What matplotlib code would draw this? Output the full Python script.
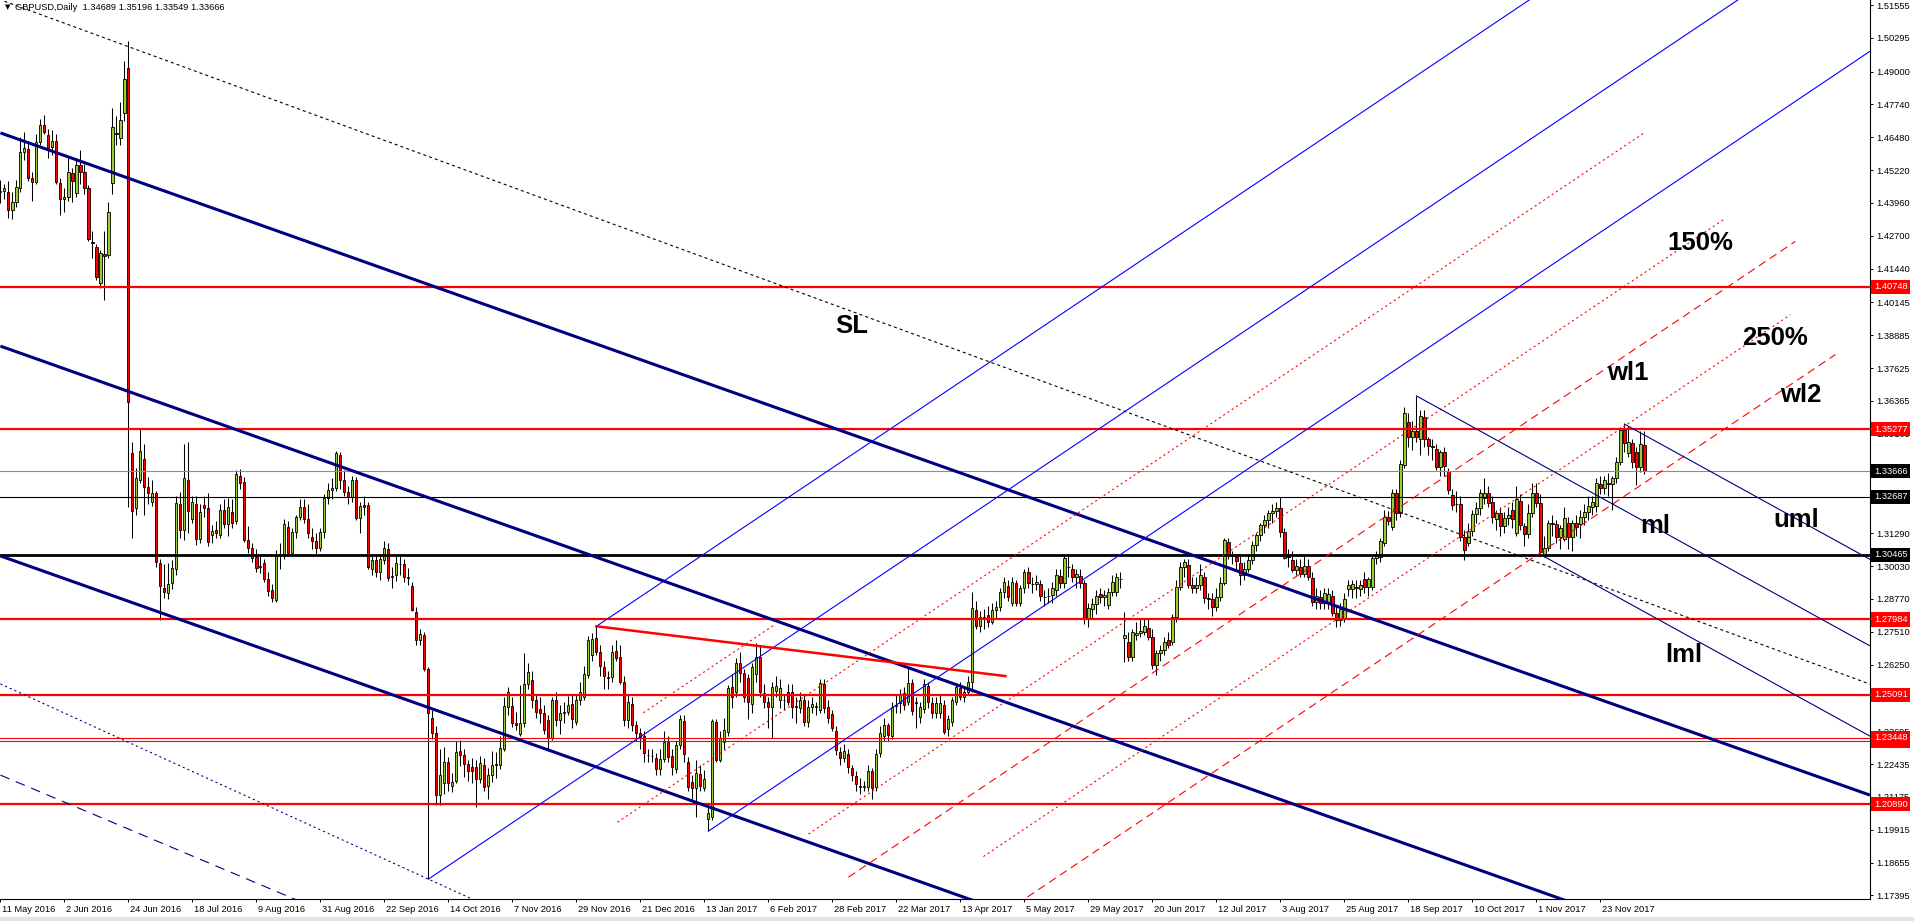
import matplotlib
matplotlib.use('Agg')
import matplotlib.pyplot as plt
import matplotlib.transforms as mtransforms
from matplotlib.patches import Rectangle
import numpy as np

plt.rcParams['font.family'] = ['Liberation Sans', 'DejaVu Sans']
plt.rcParams['lines.scale_dashes'] = False

header = 'GBPUSD,Daily  1.34689 1.35196 1.33549 1.33666'

# one label every 16 daily bars
date_labels = ['11 May 2016', '2 Jun 2016', '24 Jun 2016', '18 Jul 2016', '9 Aug 2016',
               '31 Aug 2016', '22 Sep 2016', '14 Oct 2016', '7 Nov 2016', '29 Nov 2016',
               '21 Dec 2016', '13 Jan 2017', '6 Feb 2017', '28 Feb 2017', '22 Mar 2017',
               '13 Apr 2017', '5 May 2017', '29 May 2017', '20 Jun 2017', '12 Jul 2017',
               '3 Aug 2017', '25 Aug 2017', '18 Sep 2017', '10 Oct 2017', '1 Nov 2017',
               '23 Nov 2017']

price_ticks = [1.51555, 1.50295, 1.49000, 1.47740, 1.46480, 1.45220, 1.43960, 1.42700,
               1.41440, 1.40145, 1.38885, 1.37625, 1.36365, 1.35105, 1.33845, 1.32585,
               1.31290, 1.30030, 1.28770, 1.27510, 1.26250, 1.24990, 1.23695, 1.22435,
               1.21175, 1.19915, 1.18655, 1.17395]

# daily bars, one row per week
opens = [
    1.4440, 1.4443, 1.4438,
    1.4369, 1.4400, 1.4452, 1.4593, 1.4605,
    1.4490, 1.4478, 1.4631, 1.4695, 1.4657,
    1.4610, 1.4635, 1.4474, 1.4410, 1.4420,
    1.4510, 1.4436, 1.4541, 1.4516, 1.4452,
    1.4245, 1.4228, 1.4088, 1.4200, 1.4197,
    1.4474, 1.4665, 1.4644, 1.4740, 1.4912,
    1.3437, 1.3226, 1.3333, 1.3414, 1.3307,
    1.3247, 1.3282, 1.3015, 1.2920, 1.2900,
    1.2939, 1.2992, 1.3241, 1.3141, 1.3335,
    1.3185, 1.3243, 1.3105, 1.3236, 1.3224,
    1.3124, 1.3140, 1.3124, 1.3220, 1.3164,
    1.3210, 1.3177, 1.3349, 1.3327, 1.3103,
    1.3071, 1.3039, 1.3000, 1.3013, 1.2952,
    1.2913, 1.2873, 1.3048, 1.3045, 1.3151,
    1.3055, 1.3134, 1.3192, 1.3228, 1.3185,
    1.3115, 1.3100, 1.3071, 1.3132, 1.3263,
    1.3295, 1.3302, 1.3431, 1.3332, 1.3288,
    1.3268, 1.3332, 1.3188, 1.3236, 1.3236,
    1.2992, 1.3025, 1.2979, 1.3025, 1.3067,
    1.2962, 1.2968, 1.3012, 1.3012, 1.2961,
    1.2925, 1.2827, 1.2718, 1.2739, 1.2608,
    1.2420, 1.2362, 1.2125, 1.2172, 1.2252,
    1.2160, 1.2177, 1.2295, 1.2280, 1.2245,
    1.2234, 1.2232, 1.2188, 1.2240, 1.2160,
    1.2200, 1.2245, 1.2240, 1.2300, 1.2462,
    1.2468, 1.2400, 1.2358, 1.2400, 1.2551,
    1.2566, 1.2489, 1.2453, 1.2438, 1.2412,
    1.2342, 1.2489, 1.2412, 1.2438, 1.2445,
    1.2474, 1.2406, 1.2489, 1.2502, 1.2585,
    1.2660, 1.2726, 1.2675, 1.2615, 1.2578,
    1.2576, 1.2679, 1.2653, 1.2560, 1.2412,
    1.2474, 1.2393, 1.2361, 1.2351, 1.2280,
    1.2276, 1.2265, 1.2223, 1.2262,
    1.2329, 1.2274, 1.2224, 1.2316, 1.2409,
    1.2253, 1.2176, 1.2150, 1.2205, 1.2153,
    1.2033, 1.2041, 1.2405, 1.2259, 1.2329,
    1.2368, 1.2540, 1.2521, 1.2630, 1.2591,
    1.2572, 1.2474, 1.2590, 1.2656, 1.2517,
    1.2483, 1.2464, 1.2525, 1.2489, 1.2491,
    1.2521, 1.2521, 1.2466, 1.2457, 1.2489,
    1.2406, 1.2464, 1.2466, 1.2451, 1.2550,
    1.2464, 1.2435, 1.2371, 1.2290, 1.2265,
    1.2282, 1.2227, 1.2197, 1.2158, 1.2158,
    1.2156, 1.2218, 1.2156, 1.2284, 1.2351,
    1.2393, 1.2351, 1.2468, 1.2476, 1.2515,
    1.2483, 1.2553, 1.2481, 1.2425, 1.2453,
    1.2543, 1.2479, 1.2438, 1.2440, 1.2470,
    1.2377, 1.2406, 1.2483, 1.2534, 1.2502,
    1.2521, 1.2560, 1.2835, 1.2773, 1.2807,
    1.2815, 1.2790, 1.2835, 1.2845, 1.2905,
    1.2927, 1.2863, 1.2937, 1.2863, 1.2918,
    1.2982, 1.2936, 1.2934, 1.2934, 1.2885,
    1.2888, 1.2892, 1.2911, 1.2965, 1.2937,
    1.2999, 1.2990, 1.2960, 1.2965, 1.2939,
    1.2799, 1.2837, 1.2858, 1.2895, 1.2883,
    1.2854, 1.2905, 1.2905, 1.2955, 1.2727,
    1.2713, 1.2655, 1.2738, 1.2747, 1.2751,
    1.2764, 1.2732, 1.2623, 1.2668, 1.2681,
    1.2720, 1.2713, 1.2809, 1.2924, 1.3001,
    1.3007, 1.2930, 1.2917, 1.2930, 1.2960,
    1.2879, 1.2875, 1.2845, 1.2883, 1.2937,
    1.3097, 1.3046, 1.3036, 1.3016, 1.2969,
    1.2990, 1.3026, 1.3084, 1.3122, 1.3161,
    1.3180, 1.3205, 1.3215, 1.3224, 1.3135,
    1.3040, 1.3026, 1.2988, 1.2998, 1.2972,
    1.3003, 1.2956, 1.2866, 1.2886, 1.2862,
    1.2860, 1.2888, 1.2824, 1.2796, 1.2800,
    1.2914, 1.2916, 1.2921, 1.2914, 1.2953,
    1.2922, 1.2924, 1.3033, 1.3039, 1.3093,
    1.3193, 1.3154, 1.3282, 1.3205, 1.3391,
    1.3557, 1.3499, 1.3520, 1.3489, 1.3576,
    1.3489, 1.3462, 1.3451, 1.3384, 1.3442,
    1.3369, 1.3276, 1.3240, 1.3241, 1.3116,
    1.3090, 1.3139, 1.3203, 1.3224, 1.3265,
    1.3284, 1.3250, 1.3182, 1.3205, 1.3156,
    1.3188, 1.3220, 1.3129, 1.3254, 1.3157,
    1.3126, 1.3205, 1.3282, 1.3246, 1.3051,
    1.3071, 1.3167, 1.3164, 1.3116, 1.3108,
    1.3167, 1.3113, 1.3167, 1.3164, 1.3190,
    1.3212, 1.3231, 1.3234, 1.3318, 1.3301,
    1.3320, 1.3318, 1.3340, 1.3404, 1.3525,
    1.3436, 1.3474, 1.3442, 1.3384, 1.34689,
]

highs = [
    1.4484, 1.4470, 1.4480,
    1.4440, 1.4485, 1.4650, 1.4668, 1.4635,
    1.4515, 1.4660, 1.4720, 1.4733, 1.4680,
    1.4675, 1.4660, 1.4490, 1.4455, 1.4570,
    1.4530, 1.4570, 1.4600, 1.4545, 1.4465,
    1.4290, 1.4240, 1.4215, 1.4290, 1.4400,
    1.4760, 1.4730, 1.4785, 1.4940, 1.5016,
    1.3479, 1.3380, 1.3533, 1.3470, 1.3345,
    1.3335, 1.3290, 1.3030, 1.3010, 1.3015,
    1.3025, 1.3270, 1.3288, 1.3473, 1.3480,
    1.3270, 1.3270, 1.3240, 1.3270, 1.3285,
    1.3160, 1.3175, 1.3240, 1.3260, 1.3265,
    1.3260, 1.3372, 1.3375, 1.3345, 1.3155,
    1.3090, 1.3070, 1.3040, 1.3030, 1.2980,
    1.2935, 1.3065, 1.3090, 1.3185, 1.3175,
    1.3150, 1.3200, 1.3260, 1.3260, 1.3240,
    1.3150, 1.3130, 1.3150, 1.3280, 1.3320,
    1.3340, 1.3445, 1.3440, 1.3370, 1.3310,
    1.3350, 1.3345, 1.3250, 1.3270, 1.3250,
    1.3050, 1.3050, 1.3050, 1.3100, 1.3090,
    1.3000, 1.3040, 1.3040, 1.3030, 1.2995,
    1.2940, 1.2845, 1.2760, 1.2750, 1.2615,
    1.2450, 1.2390, 1.2300, 1.2310, 1.2270,
    1.2210, 1.2330, 1.2335, 1.2300, 1.2260,
    1.2265, 1.2260, 1.2275, 1.2265, 1.2230,
    1.2295, 1.2290, 1.2350, 1.2502, 1.2540,
    1.2500, 1.2445, 1.2545, 1.2670, 1.2630,
    1.2600, 1.2510, 1.2500, 1.2470, 1.2430,
    1.2500, 1.2520, 1.2470, 1.2480, 1.2505,
    1.2510, 1.2510, 1.2560, 1.2620, 1.2735,
    1.2745, 1.2772, 1.2700, 1.2640, 1.2600,
    1.2700, 1.2720, 1.2700, 1.2580, 1.2510,
    1.2500, 1.2410, 1.2380, 1.2370, 1.2300,
    1.2300, 1.2285, 1.2300, 1.2370,
    1.2350, 1.2300, 1.2330, 1.2430, 1.2430,
    1.2270, 1.2200, 1.2260, 1.2240, 1.2220,
    1.2090, 1.2415, 1.2415, 1.2370, 1.2420,
    1.2545, 1.2590, 1.2650, 1.2675, 1.2610,
    1.2590, 1.2630, 1.2706, 1.2700, 1.2550,
    1.2500, 1.2560, 1.2580, 1.2570, 1.2510,
    1.2550, 1.2550, 1.2500, 1.2520, 1.2510,
    1.2490, 1.2500, 1.2480, 1.2570, 1.2570,
    1.2490, 1.2450, 1.2390, 1.2310, 1.2320,
    1.2300, 1.2240, 1.2215, 1.2190, 1.2180,
    1.2240, 1.2230, 1.2300, 1.2390, 1.2420,
    1.2400, 1.2480, 1.2510, 1.2530, 1.2540,
    1.2611, 1.2570, 1.2500, 1.2480, 1.2570,
    1.2560, 1.2500, 1.2500, 1.2510, 1.2490,
    1.2430, 1.2500, 1.2550, 1.2560, 1.2540,
    1.2580, 1.2905, 1.2870, 1.2830, 1.2840,
    1.2850, 1.2860, 1.2870, 1.2920, 1.2960,
    1.2950, 1.2960, 1.2950, 1.2930, 1.2990,
    1.3000, 1.2960, 1.2970, 1.2950, 1.2910,
    1.2920, 1.2940, 1.2990, 1.2990, 1.3046,
    1.3048, 1.3010, 1.2990, 1.2990, 1.2950,
    1.2860, 1.2880, 1.2910, 1.2920, 1.2910,
    1.2920, 1.2970, 1.2975, 1.2980, 1.2828,
    1.2750, 1.2760, 1.2790, 1.2800, 1.2800,
    1.2800, 1.2760, 1.2680, 1.2700, 1.2730,
    1.2750, 1.2820, 1.2950, 1.3020, 1.3030,
    1.3030, 1.2960, 1.2960, 1.3010, 1.2980,
    1.2900, 1.2900, 1.2920, 1.2960, 1.3110,
    1.3110, 1.3060, 1.3050, 1.3040, 1.3020,
    1.3050, 1.3100, 1.3130, 1.3170, 1.3200,
    1.3220, 1.3240, 1.3250, 1.3267, 1.3150,
    1.3070, 1.3060, 1.3030, 1.3030, 1.3040,
    1.3030, 1.2980, 1.2920, 1.2910, 1.2920,
    1.2920, 1.2910, 1.2850, 1.2860, 1.2900,
    1.2950, 1.2950, 1.2950, 1.2950, 1.2980,
    1.2960, 1.3040, 1.3060, 1.3110, 1.3220,
    1.3215, 1.3300, 1.3300, 1.3410, 1.3615,
    1.3590, 1.3560, 1.3656, 1.3600, 1.3600,
    1.3500, 1.3490, 1.3470, 1.3450, 1.3460,
    1.3380, 1.3300, 1.3290, 1.3270, 1.3140,
    1.3170, 1.3220, 1.3250, 1.3300, 1.3340,
    1.3310, 1.3270, 1.3220, 1.3230, 1.3210,
    1.3230, 1.3250, 1.3310, 1.3280, 1.3170,
    1.3240, 1.3320, 1.3320, 1.3280, 1.3120,
    1.3180, 1.3200, 1.3180, 1.3160, 1.3230,
    1.3190, 1.3180, 1.3200, 1.3220, 1.3240,
    1.3270, 1.3270, 1.3340, 1.3350, 1.3350,
    1.3360, 1.3350, 1.3420, 1.3538, 1.3548,
    1.3540, 1.3490, 1.3460, 1.3520, 1.35196,
]

lows = [
    1.4396, 1.4410, 1.4340,
    1.4335, 1.4380, 1.4440, 1.4560, 1.4480,
    1.4405, 1.4470, 1.4620, 1.4660, 1.4570,
    1.4580, 1.4470, 1.4350, 1.4360, 1.4405,
    1.4400, 1.4420, 1.4470, 1.4430, 1.4250,
    1.4185, 1.4100, 1.4070, 1.4024, 1.4185,
    1.4430, 1.4620, 1.4620, 1.4710, 1.3229,
    1.3111, 1.3200, 1.3320, 1.3199, 1.3240,
    1.3235, 1.3000, 1.2796, 1.2880, 1.2877,
    1.2915, 1.2970, 1.3109, 1.3104, 1.3130,
    1.3170, 1.3085, 1.3090, 1.3190, 1.3080,
    1.3090, 1.3110, 1.3110, 1.3150, 1.3120,
    1.3150, 1.3165, 1.3300, 1.3095, 1.3055,
    1.3020, 1.2980, 1.2975, 1.2940, 1.2890,
    1.2865, 1.2865, 1.2990, 1.3030, 1.3040,
    1.3040, 1.3110, 1.3180, 1.3170, 1.3110,
    1.3070, 1.3050, 1.3060, 1.3110, 1.3240,
    1.3260, 1.3290, 1.3300, 1.3270, 1.3240,
    1.3250, 1.3180, 1.3130, 1.3200, 1.2990,
    1.2970, 1.2960, 1.2950, 1.3010, 1.2945,
    1.2920, 1.2945, 1.2970, 1.2940, 1.2930,
    1.2830, 1.2700, 1.2700, 1.2600, 1.1802,
    1.2340, 1.2086, 1.2085, 1.2130, 1.2140,
    1.2135, 1.2170, 1.2235, 1.2195, 1.2180,
    1.2170, 1.2080, 1.2170, 1.2140, 1.2110,
    1.2175, 1.2190, 1.2225, 1.2295, 1.2430,
    1.2385, 1.2375, 1.2350, 1.2385, 1.2530,
    1.2460, 1.2420, 1.2400, 1.2360, 1.2300,
    1.2335, 1.2390, 1.2360, 1.2400, 1.2430,
    1.2380, 1.2395, 1.2470, 1.2490, 1.2575,
    1.2640, 1.2660, 1.2580, 1.2530, 1.2530,
    1.2560, 1.2640, 1.2550, 1.2390, 1.2380,
    1.2370, 1.2330, 1.2300, 1.2250, 1.2250,
    1.2250, 1.2200, 1.2200, 1.2250,
    1.2250, 1.2200, 1.2210, 1.2300, 1.2250,
    1.2140, 1.2110, 1.2040, 1.2140, 1.2140,
    1.1986, 1.2030, 1.2250, 1.2250, 1.2300,
    1.2350, 1.2460, 1.2500, 1.2560, 1.2480,
    1.2415, 1.2440, 1.2560, 1.2500, 1.2460,
    1.2380, 1.2342, 1.2500, 1.2460, 1.2450,
    1.2470, 1.2420, 1.2400, 1.2440, 1.2390,
    1.2385, 1.2440, 1.2430, 1.2440, 1.2440,
    1.2400, 1.2370, 1.2280, 1.2240, 1.2250,
    1.2210, 1.2180, 1.2140, 1.2130, 1.2140,
    1.2140, 1.2109, 1.2140, 1.2270, 1.2330,
    1.2330, 1.2340, 1.2440, 1.2440, 1.2450,
    1.2470, 1.2430, 1.2380, 1.2400, 1.2440,
    1.2460, 1.2420, 1.2420, 1.2420, 1.2360,
    1.2350, 1.2390, 1.2470, 1.2490, 1.2480,
    1.2510, 1.2520, 1.2760, 1.2750, 1.2760,
    1.2770, 1.2780, 1.2800, 1.2830, 1.2880,
    1.2870, 1.2850, 1.2850, 1.2850, 1.2900,
    1.2920, 1.2900, 1.2910, 1.2870, 1.2850,
    1.2860, 1.2860, 1.2890, 1.2920, 1.2920,
    1.2960, 1.2940, 1.2920, 1.2920, 1.2780,
    1.2770, 1.2800, 1.2820, 1.2860, 1.2850,
    1.2840, 1.2890, 1.2890, 1.2920, 1.2636,
    1.2640, 1.2640, 1.2720, 1.2730, 1.2740,
    1.2720, 1.2610, 1.2585, 1.2640, 1.2660,
    1.2690, 1.2700, 1.2790, 1.2910, 1.2960,
    1.2920, 1.2900, 1.2900, 1.2910, 1.2860,
    1.2840, 1.2812, 1.2830, 1.2870, 1.2930,
    1.3030, 1.3010, 1.2990, 1.2930, 1.2950,
    1.2980, 1.3010, 1.3060, 1.3100, 1.3130,
    1.3150, 1.3170, 1.3190, 1.3115, 1.3030,
    1.3000, 1.2980, 1.2970, 1.2960, 1.2960,
    1.2950, 1.2850, 1.2840, 1.2840, 1.2840,
    1.2840, 1.2810, 1.2770, 1.2775, 1.2790,
    1.2890, 1.2880, 1.2880, 1.2890, 1.2900,
    1.2890, 1.2910, 1.3010, 1.3020, 1.3080,
    1.3160, 1.3140, 1.3180, 1.3190, 1.3380,
    1.3460, 1.3450, 1.3480, 1.3430, 1.3460,
    1.3430, 1.3410, 1.3370, 1.3350, 1.3350,
    1.3280, 1.3220, 1.3210, 1.3100, 1.3026,
    1.3080, 1.3120, 1.3170, 1.3200, 1.3240,
    1.3230, 1.3170, 1.3140, 1.3120, 1.3130,
    1.3160, 1.3150, 1.3120, 1.3140, 1.3080,
    1.3110, 1.3190, 1.3230, 1.3040, 1.3039,
    1.3060, 1.3120, 1.3090, 1.3070, 1.3100,
    1.3070, 1.3060, 1.3120, 1.3110, 1.3160,
    1.3180, 1.3200, 1.3210, 1.3280, 1.3280,
    1.3270, 1.3218, 1.3320, 1.3390, 1.3440,
    1.3420, 1.3380, 1.3314, 1.3365, 1.33549,
]

closes = [
    1.4443, 1.4452, 1.4369,
    1.4401, 1.4459, 1.4593, 1.4606, 1.4490,
    1.4475, 1.4631, 1.4695, 1.4670, 1.4606,
    1.4635, 1.4478, 1.4410, 1.4420, 1.4516,
    1.4480, 1.4541, 1.4516, 1.4452, 1.4257,
    1.4241, 1.4113, 1.4203, 1.4194, 1.4361,
    1.4689, 1.4660, 1.4714, 1.4871, 1.3633,
    1.3215, 1.3340, 1.3444, 1.3307, 1.3282,
    1.3284, 1.3017, 1.2927, 1.2902, 1.2935,
    1.2996, 1.3245, 1.3141, 1.3339, 1.3215,
    1.3249, 1.3105, 1.3211, 1.3227, 1.3096,
    1.3137, 1.3130, 1.3217, 1.3164, 1.3228,
    1.3169, 1.3356, 1.3323, 1.3103, 1.3071,
    1.3035, 1.2997, 1.3004, 1.2952, 1.2907,
    1.2879, 1.3045, 1.3045, 1.3163, 1.3052,
    1.3132, 1.3192, 1.3228, 1.3185, 1.3128,
    1.3100, 1.3071, 1.3132, 1.3266, 1.3295,
    1.3302, 1.3437, 1.3332, 1.3288, 1.3268,
    1.3332, 1.3188, 1.3232, 1.3230, 1.2999,
    1.3025, 1.2979, 1.3031, 1.3074, 1.2959,
    1.2965, 1.3016, 1.3010, 1.2961, 1.2958,
    1.2836, 1.2718, 1.2743, 1.2609, 1.2439,
    1.2362, 1.2125, 1.2201, 1.2252, 1.2170,
    1.2175, 1.2291, 1.2280, 1.2245, 1.2215,
    1.2218, 1.2188, 1.2246, 1.2157, 1.2200,
    1.2240, 1.2240, 1.2305, 1.2466, 1.2520,
    1.2402, 1.2395, 1.2400, 1.2551, 1.2595,
    1.2489, 1.2444, 1.2438, 1.2374, 1.2342,
    1.2489, 1.2412, 1.2440, 1.2445, 1.2470,
    1.2415, 1.2489, 1.2521, 1.2589, 1.2720,
    1.2725, 1.2675, 1.2620, 1.2580, 1.2574,
    1.2675, 1.2649, 1.2560, 1.2412, 1.2483,
    1.2393, 1.2361, 1.2348, 1.2284, 1.2278,
    1.2274, 1.2223, 1.2262, 1.2329,
    1.2269, 1.2233, 1.2316, 1.2415, 1.2282,
    1.2157, 1.2150, 1.2208, 1.2160, 1.2187,
    1.2056, 1.2408, 1.2259, 1.2342, 1.2374,
    1.2534, 1.2500, 1.2630, 1.2591, 1.2501,
    1.2483, 1.2617, 1.2656, 1.2521, 1.2483,
    1.2464, 1.2540, 1.2543, 1.2534, 1.2489,
    1.2483, 1.2464, 1.2464, 1.2489, 1.2406,
    1.2464, 1.2474, 1.2463, 1.2553, 1.2457,
    1.2419, 1.2380, 1.2297, 1.2265, 1.2295,
    1.2233, 1.2201, 1.2167, 1.2156, 1.2155,
    1.2218, 1.2150, 1.2282, 1.2361, 1.2393,
    1.2355, 1.2464, 1.2470, 1.2513, 1.2470,
    1.2553, 1.2448, 1.2478, 1.2464, 1.2551,
    1.2483, 1.2438, 1.2479, 1.2476, 1.2368,
    1.2415, 1.2489, 1.2540, 1.2502, 1.2521,
    1.2560, 1.2841, 1.2773, 1.2809, 1.2805,
    1.2790, 1.2835, 1.2847, 1.2905, 1.2943,
    1.2883, 1.2940, 1.2863, 1.2918, 1.2982,
    1.2937, 1.2934, 1.2940, 1.2888, 1.2883,
    1.2888, 1.2918, 1.2969, 1.2939, 1.3033,
    1.2998, 1.2960, 1.2972, 1.2937, 1.2799,
    1.2841, 1.2858, 1.2888, 1.2883, 1.2892,
    1.2905, 1.2943, 1.2960, 1.2952, 1.2739,
    1.2655, 1.2751, 1.2747, 1.2755, 1.2773,
    1.2732, 1.2623, 1.2668, 1.2681, 1.2713,
    1.2702, 1.2809, 1.2924, 1.3001, 1.3020,
    1.2930, 1.2917, 1.2930, 1.2969, 1.2879,
    1.2875, 1.2845, 1.2883, 1.2937, 1.3103,
    1.3046, 1.3040, 1.3023, 1.2969, 1.2990,
    1.3026, 1.3084, 1.3122, 1.3161, 1.3180,
    1.3205, 1.3215, 1.3224, 1.3135, 1.3033,
    1.3039, 1.2988, 1.3003, 1.2972, 1.3003,
    1.2960, 1.2866, 1.2888, 1.2862, 1.2898,
    1.2896, 1.2822, 1.2796, 1.2837, 1.2875,
    1.2930, 1.2934, 1.2919, 1.2930, 1.2922,
    1.2955, 1.3033, 1.3040, 1.3100, 1.3193,
    1.3175, 1.3282, 1.3205, 1.3394, 1.3589,
    1.3499, 1.3520, 1.3500, 1.3579, 1.3489,
    1.3464, 1.3459, 1.3384, 1.3442, 1.3387,
    1.3295, 1.3237, 1.3241, 1.3116, 1.3065,
    1.3139, 1.3203, 1.3224, 1.3284, 1.3282,
    1.3246, 1.3193, 1.3205, 1.3156, 1.3188,
    1.3199, 1.3183, 1.3259, 1.3161, 1.3126,
    1.3205, 1.3282, 1.3246, 1.3058, 1.3071,
    1.3167, 1.3165, 1.3116, 1.3148, 1.3186,
    1.3113, 1.3167, 1.3154, 1.3190, 1.3212,
    1.3234, 1.3250, 1.3320, 1.3301, 1.3333,
    1.3316, 1.3340, 1.3404, 1.3525, 1.3474,
    1.3480, 1.3404, 1.3384, 1.3471, 1.33666,
]

assert len(opens) == len(highs) == len(lows) == len(closes), (len(opens), len(highs), len(lows), len(closes))

# horizontal levels drawn on the chart
red_levels = [1.40748, 1.35277, 1.27984, 1.25091, 1.20890]
thin_red_levels = [1.23448, 1.23310]
thin_black_level = 1.32687
thick_black_level = 1.30465
last_price = 1.33666

# bars used as anchors of the drawn tools
fork_bars = [107, 149, 177]          # low, high, low
fork_levels = [0.5, 1.5, 2.0, 2.5, 3.0, -0.157]
channel_start = [1.4665, 1.3847, 1.3042]
schiff_bars = [354, 406, 386]        # high, high, low

o = np.array(opens); h = np.array(highs); l = np.array(lows); c = np.array(closes)
n = len(c)
x = np.arange(n)

fig = plt.figure(figsize=(19.15, 9.21), dpi=100)
ax = fig.add_axes([0, 22 / 921, 1870 / 1915, 899 / 921])
XMAX = 467.4
ax.set_xlim(-0.1, XMAX)
ax.set_ylim(1.17257, 1.51748)

# candles
top = np.maximum(o, c); bot = np.minimum(o, c)
ax.vlines(x, np.minimum(l, bot), np.maximum(h, top), color='black', lw=0.75, zorder=2)
up = c >= o
ax.bar(x[up], (top - bot)[up], bottom=bot[up], width=0.55, color='#9ACD32',
       edgecolor='black', linewidth=0.6, zorder=2.5)
ax.bar(x[~up], (top - bot)[~up], bottom=bot[~up], width=0.55, color='#FF0000',
       edgecolor='black', linewidth=0.6, zorder=2.5)

# horizontal lines
for v in red_levels:
    ax.axhline(v, color='#FF0000', lw=1.6, zorder=3)
for v in thin_red_levels:
    ax.axhline(v, color='#FF0000', lw=0.8, zorder=3)
ax.axhline(thin_black_level, color='black', lw=0.8, zorder=3)
ax.axhline(thick_black_level, color='black', lw=2.0, zorder=3)
ax.axhline(last_price, color='#8090A0', lw=0.8, zorder=3)

NAVY = '#000080'
BLUE = '#0000FF'
RED = '#FF0000'

# wide falling channel
chan_slope = -0.0005436
for b in channel_start:
    ax.plot([0, XMAX], [b, b + chan_slope * XMAX], color=NAVY, lw=2.2, zorder=4,
            solid_capstyle='butt')

# SL line
ax.plot([1, XMAX], [1.5170, 1.2550], color='black', lw=0.8, dashes=(2.2, 2.2), zorder=4)

# old dotted and dashed navy lines at the bottom left
p1x, p2x, p3x = fork_bars
p1y, p2y, p3y = l[p1x], h[p2x], l[p3x]
s_dot = (p1y - 1.2551) / p1x
ax.plot([0, 125], [1.2551, 1.2551 + s_dot * 125], color=NAVY, lw=0.8, dashes=(1.5, 2.2), zorder=4)
s_long = (1.17257 - 1.2201) / 73.5
ax.plot([0, 80], [1.2201, 1.2201 + s_long * 80], color=NAVY, lw=0.8, dashes=(7, 5), zorder=4)

# Andrews pitchfork
mx, my = (p2x + p3x) / 2, (p2y + p3y) / 2
fslope = (my - p1y) / (mx - p1x)
median = lambda xx: p1y + fslope * (xx - p1x)
for (ax0, ay0) in [(p1x, p1y), (p2x, p2y), (p3x, p3y)]:
    ax.plot([ax0, XMAX], [ay0, ay0 + fslope * (XMAX - ax0)], color=BLUE, lw=0.8, zorder=4)
off = p3y - median(p3x)
seg_x = [(154.25, 410.75), (202, 430.75), (212, 448.75), (245.75, 447.5), (256.75, 458.75),
         (160.75, 193.75)]
seg_style = [(1.5, 2.2), (1.5, 2.2), (5.8, 3.6), (1.5, 2.2), (5.8, 3.6), (1.5, 2.2)]
for k, (xa, xb), ds in zip(fork_levels, seg_x, seg_style):
    ax.plot([xa, xb], [median(xa) + k * off, median(xb) + k * off], color=RED, lw=0.8,
            dashes=ds, zorder=4)

# falling red trendline from the December 2016 high
ax.plot([p2x, 251.25], [p2y, 1.2581], color=RED, lw=1.8, zorder=4)

# thin navy lines from the 2017 highs and low
sl2 = -0.000846
for i, b in enumerate(schiff_bars):
    yb = h[b] if i < 2 else l[b]
    ax.plot([b, XMAX], [yb, yb + sl2 * (XMAX - b)], color=NAVY, lw=0.8, zorder=4)

# chart labels
big = dict(fontsize=18.5, fontweight='bold', color='black', ha='left', va='baseline', zorder=6)
ax.text(208.75, 1.38972, 'SL', **big)
ax.text(416.75, 1.42157, '150%', **big)
ax.text(435.5, 1.38512, '250%', **big)
ax.text(401.75, 1.37169, 'wl1', **big)
ax.text(445.0, 1.36325, 'wl2', **big)
ax.text(410.0, 1.31299, 'ml', **big)
ax.text(443.25, 1.31529, 'uml', **big)
ax.text(416.25, 1.26350, 'lml', **big)

# axes styling
for side in ['left', 'top']:
    ax.spines[side].set_visible(False)
for side in ['right', 'bottom']:
    ax.spines[side].set_color('black')
    ax.spines[side].set_linewidth(0.8)
ax.yaxis.tick_right()
ax.set_yticks(price_ticks)
ax.set_yticklabels([f'{v:.5f}' for v in price_ticks])
ax.tick_params(axis='y', direction='out', length=2.5, width=0.7, pad=2, labelsize=6.7,
               colors='black')
ax.set_xticks(np.arange(len(date_labels)) * 16)
ax.set_xticklabels(date_labels)
ax.tick_params(axis='x', direction='out', length=2.5, width=0.7, pad=1.5, labelsize=6.7)
shift = mtransforms.ScaledTranslation(2 / 100, 0, fig.dpi_scale_trans)
for lbl in ax.get_xticklabels():
    lbl.set_horizontalalignment('left')
    lbl.set_transform(lbl.get_transform() + shift)

# price boxes on the scale
trans = mtransforms.blended_transform_factory(ax.transAxes, ax.transData)
boxes = [(1.23310, RED), (1.23448, RED), (1.40748, RED), (1.35277, RED), (1.27984, RED),
         (1.25091, RED), (1.20890, RED), (last_price, 'black'), (thin_black_level, 'black'),
         (thick_black_level, 'black')]
for v, col in boxes:
    ax.text(1 + 4 / 1870, v, f'{v:.5f}', transform=trans, ha='left', va='center',
            fontsize=6.7, color='white', clip_on=False, zorder=10,
            bbox=dict(boxstyle='square,pad=0.28', fc=col, ec=col, lw=0))

fig.text(5 / 1915, 1 - 7 / 921, '\u25bc', fontsize=5, va='center', ha='left',
         family=['DejaVu Sans'])
fig.text(15 / 1915, 1 - 7 / 921, header, fontsize=6.7, va='center', ha='left')
fig.patches.append(Rectangle((0, 0), 1, 4 / 921, transform=fig.transFigure,
                             fc='#E4E4E4', ec='none'))

fig.savefig('out.png', dpi=100, facecolor='white')
